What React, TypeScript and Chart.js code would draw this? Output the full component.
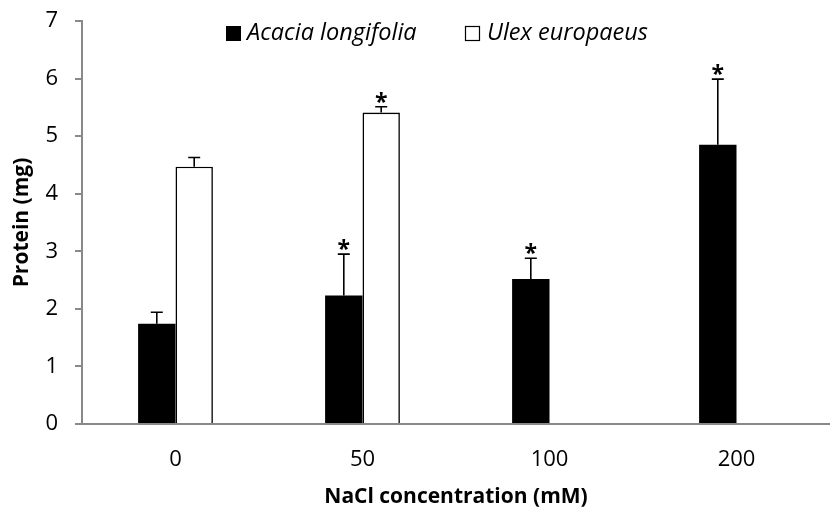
import React, { useEffect, useRef } from "react";
import { Chart, registerables } from "chart.js";

Chart.register(...registerables);

// NaCl treatments and mean protein content (mg) with upward standard errors
const categories = ["0", "50", "100", "200"];
const acaciaMeans = [1.74, 2.23, 2.52, 4.85];
const acaciaErrors = [0.2, 0.72, 0.36, 1.14];
const ulexMeans: (number | null)[] = [4.47, 5.41, null, null];
const ulexErrors: (number | null)[] = [0.16, 0.1, null, null];
// significance markers above each bar
const acaciaSignificant = [false, true, true, true];
const ulexSignificant = [false, true, false, false];
const yTicks = [0, 1, 2, 3, 4, 5, 6, 7];

const FONT = "'Open Sans', Lato, sans-serif";

const errorBarPlugin = {
  id: "errorBars",
  afterDatasetsDraw(chart: any) {
    const ctx = chart.ctx;
    const yScale = chart.scales.y;
    const errs = [acaciaErrors, ulexErrors];
    const sig = [acaciaSignificant, ulexSignificant];
    const means = [acaciaMeans, ulexMeans];
    ctx.save();
    ctx.strokeStyle = "#000";
    ctx.lineWidth = 1.6;
    ctx.fillStyle = "#000";
    ctx.font = `bold 23px ${FONT}`;
    ctx.textAlign = "center";
    ctx.textBaseline = "alphabetic";
    chart.data.datasets.forEach((_ds: any, di: number) => {
      const meta = chart.getDatasetMeta(di);
      meta.data.forEach((el: any, i: number) => {
        const m = means[di][i];
        const e = errs[di][i];
        if (m == null || e == null) return;
        const x = el.x;
        const yBar = yScale.getPixelForValue(m);
        const yTop = yScale.getPixelForValue(m + e);
        ctx.beginPath();
        ctx.moveTo(x, yBar);
        ctx.lineTo(x, yTop);
        ctx.moveTo(x - 6, yTop);
        ctx.lineTo(x + 6, yTop);
        ctx.stroke();
        if (sig[di][i]) {
          ctx.fillText("*", x, yTop + 3);
        }
      });
    });
    ctx.restore();
  },
};

const legendPlugin = {
  id: "insideLegend",
  afterDraw(chart: any) {
    const ctx = chart.ctx;
    const left = chart.chartArea.left;
    const top = chart.chartArea.top;
    ctx.save();
    ctx.font = `italic 23.5px ${FONT}`;
    ctx.textBaseline = "middle";
    ctx.textAlign = "left";
    ctx.fillStyle = "#000";
    const yMid = top + 12;
    // Acacia longifolia entry
    let x = left + 144;
    ctx.fillRect(x, yMid - 7, 15, 15);
    ctx.fillText("Acacia longifolia", x + 21, yMid);
    // Ulex europaeus entry
    x = left + 383;
    ctx.fillStyle = "#fff";
    ctx.fillRect(x, yMid - 7, 15, 15);
    ctx.strokeStyle = "#000";
    ctx.lineWidth = 1.2;
    ctx.strokeRect(x + 0.5, yMid - 6.5, 14, 14);
    ctx.fillStyle = "#000";
    ctx.fillText("Ulex europaeus", x + 22, yMid);
    ctx.restore();
  },
};

export default function App() {
  const canvasRef = useRef<HTMLCanvasElement | null>(null);

  useEffect(() => {
    const canvas = canvasRef.current;
    if (!canvas) return;
    const chart = new Chart(canvas, {
      type: "bar",
      data: {
        labels: categories,
        datasets: [
          {
            label: "Acacia longifolia",
            data: acaciaMeans,
            backgroundColor: "#000",
            borderColor: "#000",
            borderWidth: 0,
          },
          {
            label: "Ulex europaeus",
            data: ulexMeans,
            backgroundColor: "#fff",
            borderColor: "#000",
            borderWidth: 1.6,
          },
        ],
      },
      options: {
        responsive: false,
        animation: false,
        devicePixelRatio: 1,
        layout: { padding: { top: 21, right: 0, left: 0, bottom: 0 } },
        datasets: {
          bar: { categoryPercentage: 0.4, barPercentage: 1.0 },
        },
        plugins: {
          legend: { display: false },
          tooltip: { enabled: false },
        },
        scales: {
          x: {
            grid: { display: false, drawTicks: false },
            border: { display: true, color: "#898989", width: 2 },
            ticks: {
              padding: 23,
              color: "#000",
              font: { family: FONT, size: 22 },
            },
            title: {
              display: true,
              text: "NaCl concentration (mM)",
              color: "#000",
              font: { family: FONT, size: 21, weight: "bold" },
              padding: { top: 4, bottom: 2 },
            },
            afterFit(scale: any) {
              scale.height = 88;
            },
          },
          y: {
            min: 0,
            max: 7,
            afterBuildTicks(scale: any) {
              scale.ticks = yTicks.map((v) => ({ value: v }));
            },
            grid: {
              display: true,
              drawOnChartArea: false,
              drawTicks: true,
              tickLength: 7,
              color: "#898989",
              lineWidth: 2,
            },
            border: { display: true, color: "#898989", width: 2 },
            ticks: {
              padding: 17,
              color: "#000",
              font: { family: FONT, size: 22 },
            },
            title: {
              display: true,
              text: "Protein (mg)",
              color: "#000",
              font: { family: FONT, size: 21, weight: "bold" },
              padding: { top: 9, bottom: 4 },
            },
            afterFit(scale: any) {
              scale.width = 82;
              scale.paddingTop = 0;
              scale.paddingBottom = 0;
            },
          },
        },
      },
      plugins: [errorBarPlugin, legendPlugin],
    });
    return () => chart.destroy();
  }, []);

  return (
    <div style={{ position: "fixed", left: 0, top: 0, width: 830, height: 512, background: "#fff" }}>
      <canvas ref={canvasRef} width={830} height={512} />
    </div>
  );
}
